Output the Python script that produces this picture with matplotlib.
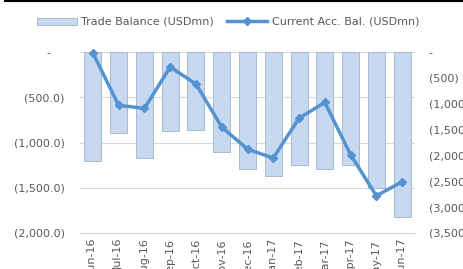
import matplotlib
matplotlib.use("Agg")
import matplotlib.pyplot as plt
from matplotlib.ticker import FixedLocator

categories = ["Jun-16", "Jul-16", "Aug-16", "Sep-16", "Oct-16", "Nov-16", "Dec-16",
              "Jan-17", "Feb-17", "Mar-17", "Apr-17", "May-17", "Jun-17"]
trade_balance = [-1200, -900, -1170, -875, -860, -1100, -1290, -1370, -1245, -1290, -1245, -1500, -1820]
current_acc = [-20, -1030, -1090, -290, -620, -1450, -1880, -2050, -1280, -975, -1985, -2780, -2510]

left_ticks = [0, -500, -1000, -1500, -2000]
left_labels = ["-    ", "(500.0)", "(1,000.0)", "(1,500.0)", "(2,000.0)"]
right_ticks = [0, -500, -1000, -1500, -2000, -2500, -3000, -3500]
right_labels = ["-", "(500)", "(1,000)", "(1,500)", "(2,000)", "(2,500)", "(3,000)", "(3,500)"]

plt.rcParams['font.family'] = ['DejaVu Sans']
txt = "#595959"
fs = 8

fig = plt.figure(figsize=(4.64, 2.69), dpi=100)
ax = fig.add_axes([80/464, 36/269, 335/464, 181/269])
x = list(range(len(categories)))

ax.bar(x, trade_balance, width=0.66, color="#c6d9f0", edgecolor="#a9bacd", linewidth=0.7,
       zorder=2, label="Trade Balance (USDmn)")
ax.set_ylim(-2000, 0)
ax.set_xlim(-0.5, len(categories) - 0.5)
ax.yaxis.set_major_locator(FixedLocator(left_ticks))
ax.set_yticklabels(left_labels)
ax.grid(axis="y", color="#d9d9d9", linewidth=0.8, zorder=0)
ax.set_axisbelow(True)
for s in ["top", "right", "left"]:
    ax.spines[s].set_visible(False)
ax.spines["bottom"].set_color("#d9d9d9")
ax.tick_params(axis="y", length=0, labelsize=fs, labelcolor=txt, pad=11)
ax.set_xticks(x)
ax.set_xticklabels(categories, rotation=90)
ax.tick_params(axis="x", length=0, labelsize=fs, labelcolor=txt, pad=4)

ax2 = ax.twinx()
ax2.plot(x, current_acc, color="#5592d2", linewidth=2.5, marker="D", markersize=4.5,
         zorder=3, clip_on=False, label="Current Acc. Bal. (USDmn)")
ax2.set_ylim(-3500, 0)
ax2.yaxis.set_major_locator(FixedLocator(right_ticks))
ax2.set_yticklabels(right_labels)
for s in ["top", "right", "left", "bottom"]:
    ax2.spines[s].set_visible(False)
ax2.tick_params(axis="y", length=0, labelsize=fs, labelcolor=txt, pad=10)

h1, l1 = ax.get_legend_handles_labels()
h2, l2 = ax2.get_legend_handles_labels()
fig.legend(h1 + h2, l1 + l2, loc="center", bbox_to_anchor=(228/464, 1 - 22/269), ncol=2,
           frameon=False, fontsize=fs, labelcolor=txt, handlelength=3.6, handleheight=0.6,
           columnspacing=1.2, handletextpad=0.4)

fig.add_artist(plt.Line2D([5/464, 1], [1 - 1/269, 1 - 1/269], color="black", linewidth=1.5,
                          transform=fig.transFigure))

fig.savefig("out.png", dpi=100)
